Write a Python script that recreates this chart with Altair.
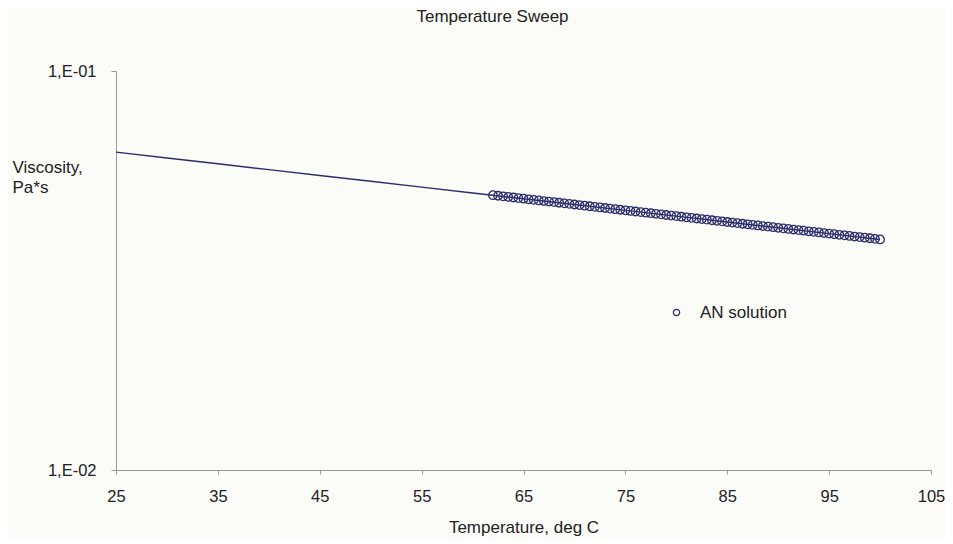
import altair as alt
import pandas as pd

# Fitted line
line_temp = [25, 30, 35, 40, 45, 50, 55, 60, 65, 70, 75, 80, 85, 90, 95, 100]
line_visc = [0.0626, 0.06053, 0.05853, 0.05659, 0.05472, 0.05291, 0.05116, 0.04947,
             0.04786, 0.04628, 0.04475, 0.04327, 0.04184, 0.04046, 0.03912, 0.03783]

# Measured points "AN solution"
pt_temp = [62, 62.5, 63, 63.5, 64, 64.5, 65, 65.5, 66, 66.5, 67, 67.5, 68, 68.5, 69, 69.5,
           70, 70.5, 71, 71.5, 72, 72.5, 73, 73.5, 74, 74.5, 75, 75.5, 76, 76.5, 77, 77.5,
           78, 78.5, 79, 79.5, 80, 80.5, 81, 81.5, 82, 82.5, 83, 83.5, 84, 84.5, 85, 85.5,
           86, 86.5, 87, 87.5, 88, 88.5, 89, 89.5, 90, 90.5, 91, 91.5, 92, 92.5, 93, 93.5,
           94, 94.5, 95, 95.5, 96, 96.5, 97, 97.5, 98, 98.5, 99, 99.5, 100]
pt_visc = [0.04884, 0.04868, 0.04851, 0.04835, 0.04819, 0.04802, 0.04786, 0.04770,
           0.04754, 0.04738, 0.04722, 0.04707, 0.04691, 0.04675, 0.04659, 0.04644,
           0.04628, 0.04613, 0.04597, 0.04582, 0.04566, 0.04551, 0.04536, 0.04520,
           0.04505, 0.04490, 0.04475, 0.04460, 0.04445, 0.04430, 0.04415, 0.04401,
           0.04386, 0.04371, 0.04356, 0.04342, 0.04327, 0.04313, 0.04298, 0.04284,
           0.04269, 0.04255, 0.04241, 0.04226, 0.04212, 0.04198, 0.04184, 0.04170,
           0.04156, 0.04142, 0.04128, 0.04115, 0.04101, 0.04087, 0.04073, 0.04060,
           0.04046, 0.04033, 0.04019, 0.04006, 0.03992, 0.03979, 0.03965, 0.03952,
           0.03939, 0.03925, 0.03912, 0.03899, 0.03886, 0.03873, 0.03860, 0.03847,
           0.03834, 0.03822, 0.03809, 0.03796, 0.03783]
series_name = "AN solution"

x_ticks = [25, 35, 45, 55, 65, 75, 85, 95, 105]
y_ticks = [0.01, 0.1]

line_df = pd.DataFrame({"T": line_temp, "V": line_visc})
pt_df = pd.DataFrame({"T": pt_temp, "V": pt_visc, "series": series_name})

FONT = "Liberation Sans"
FS = 17
NAVY = "#2c2d6b"
TEXT = "#222222"
AXIS = "#9a9a9a"

x_enc = alt.X("T:Q",
              scale=alt.Scale(domain=[25, 105], nice=False, zero=False),
              axis=alt.Axis(values=x_ticks, title="Temperature, deg C", grid=False,
                            tickSize=4, labelPadding=14, titlePadding=15,
                            labelFlush=False,
                            labelFontSize=16.5, titleFontSize=FS,
                            titleFontWeight="normal"))
y_enc = alt.Y("V:Q",
              scale=alt.Scale(type="log", domain=[0.01, 0.1], nice=False),
              axis=alt.Axis(values=y_ticks, grid=False, tickSize=5, labelPadding=15,
                            labelFontSize=16.5, labelFlush=False,
                            labelExpr="datum.value > 0.05 ? '1,E-01' : '1,E-02'",
                            title=["Viscosity,", "Pa*s"], titleAngle=0,
                            titleAlign="left", titleBaseline="top",
                            titleX=-104, titleY=88, titleFontSize=FS,
                            titleLineHeight=20,
                            titleFontWeight="normal"))

line = alt.Chart(line_df).mark_line(color=NAVY, strokeWidth=1.4).encode(x=x_enc, y=y_enc)

points = alt.Chart(pt_df).mark_point(filled=False, size=72, strokeWidth=1.3, opacity=1).encode(
    x="T:Q", y="V:Q",
    color=alt.Color("series:N", scale=alt.Scale(range=[NAVY]),
                    legend=alt.Legend(title=None, orient="none", legendX=552, legendY=233,
                                      symbolType="circle", symbolSize=40,
                                      symbolStrokeWidth=1.2, labelFontSize=FS,
                                      labelColor=TEXT, labelOffset=15)))

chart = (line + points).properties(
    width=815, height=399,
    autosize=alt.AutoSizeParams(type="none"),
    padding={"left": 108, "top": 63, "right": 14, "bottom": 70},
    background="#fbfbf8",
    title=alt.TitleParams("Temperature Sweep", fontSize=FS, fontWeight="normal",
                          color=TEXT, anchor="middle", dx=-31, offset=37, font=FONT),
).configure_view(stroke=None).configure_axis(
    domainColor=AXIS, tickColor=AXIS, labelColor=TEXT, titleColor=TEXT,
    labelFont=FONT, titleFont=FONT
).configure_legend(labelFont=FONT)

chart.save("out.html", embed_options={"renderer": "svg", "actions": False})
